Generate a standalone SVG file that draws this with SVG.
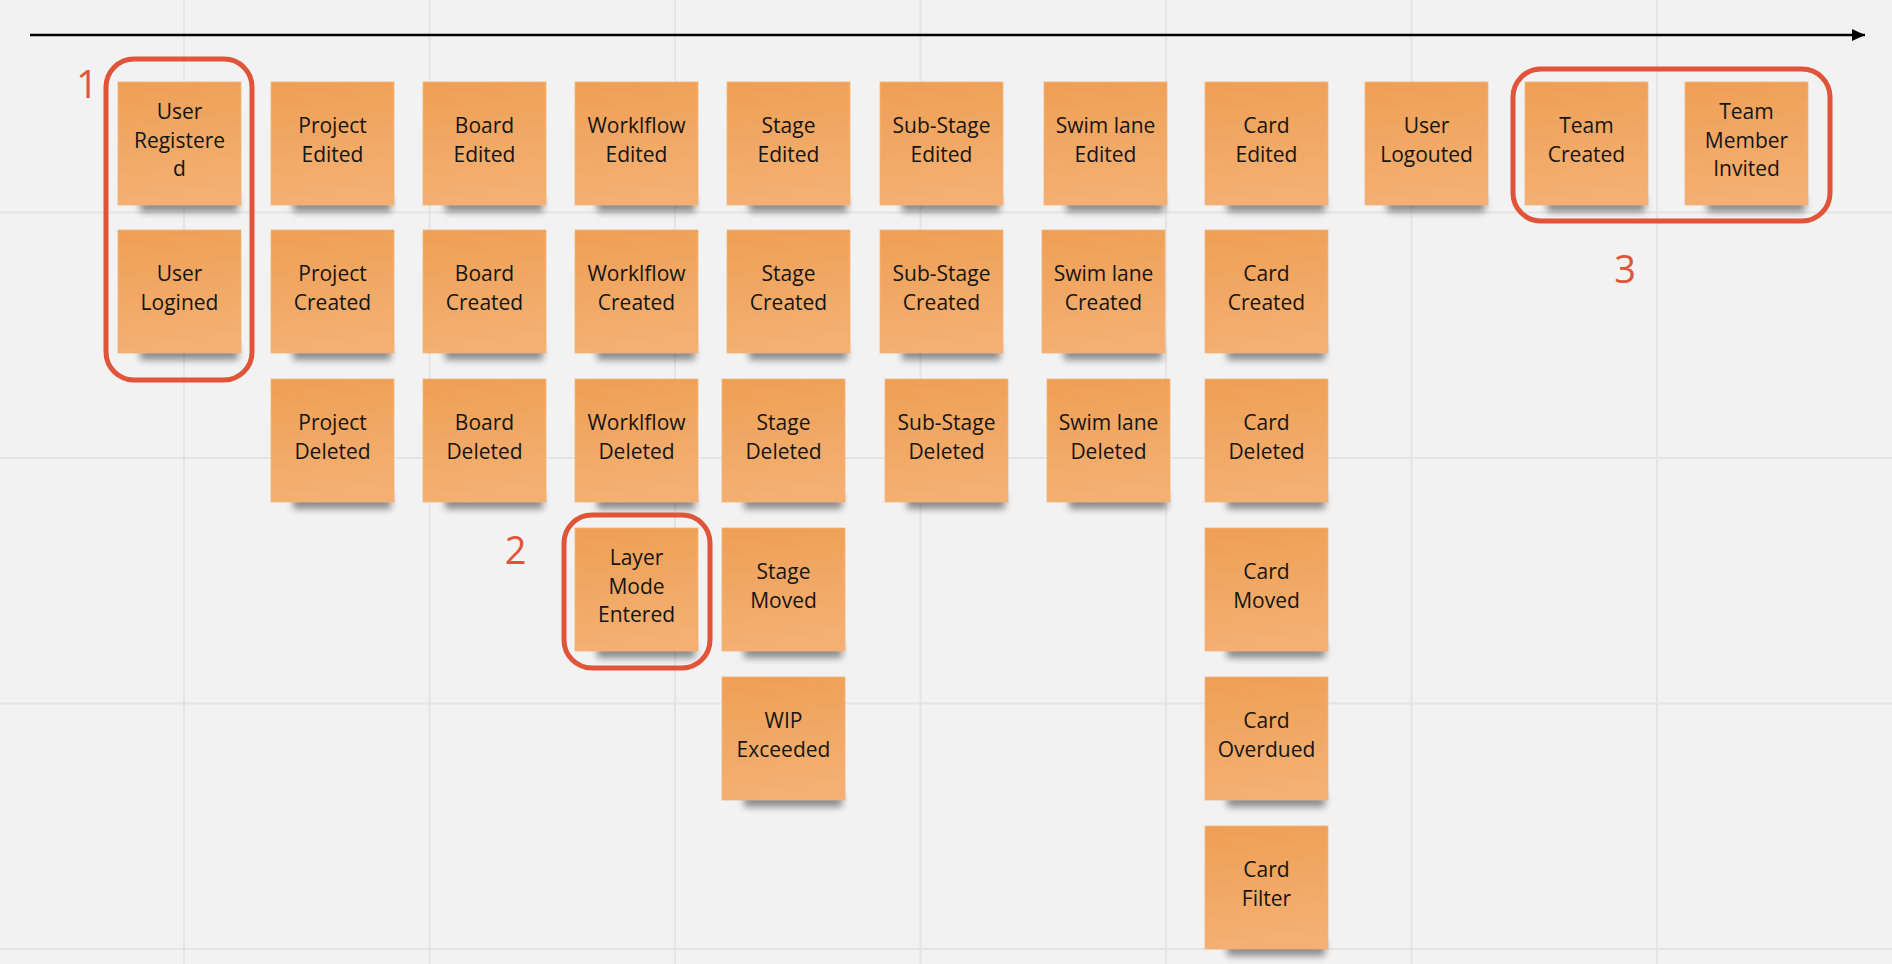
<svg xmlns="http://www.w3.org/2000/svg" width="1892" height="964" viewBox="0 0 1892 964">
<defs>
<linearGradient id="ng" x1="0" y1="0" x2="0.15" y2="1">
<stop offset="0" stop-color="#EF9F55"/>
<stop offset="1" stop-color="#F3B072"/>
</linearGradient>
<filter id="blur" x="-20%" y="-100%" width="140%" height="300%">
<feGaussianBlur stdDeviation="3.5"/>
</filter>
<marker id="ah" markerWidth="14" markerHeight="12" refX="13" refY="6" orient="auto" markerUnits="userSpaceOnUse">
<path d="M0,0 L13,6 L0,12 z" fill="#000"/>
</marker>
</defs>
<style>
.grid{stroke:#E4E4E4;stroke-width:2}
.sh{fill:#000;opacity:0.42}
.note{fill:url(#ng);stroke:#F5B57A;stroke-width:0.8}
.t{font-family:"Open Sans","Noto Sans","Liberation Sans",sans-serif;font-size:21px;fill:#151515;text-anchor:middle}
.frame{fill:none;stroke:#E0553A;stroke-width:5}
.num{font-family:"Open Sans","Noto Sans","Liberation Sans",sans-serif;font-size:38px;fill:#E0553A;text-anchor:middle}
</style>
<rect width="1892" height="964" fill="#F2F2F2"/>
<g id="grid">
<line class="grid" x1="184" y1="0" x2="184" y2="964"/>
<line class="grid" x1="429.5" y1="0" x2="429.5" y2="964"/>
<line class="grid" x1="675" y1="0" x2="675" y2="964"/>
<line class="grid" x1="920.5" y1="0" x2="920.5" y2="964"/>
<line class="grid" x1="1166" y1="0" x2="1166" y2="964"/>
<line class="grid" x1="1411.5" y1="0" x2="1411.5" y2="964"/>
<line class="grid" x1="1657" y1="0" x2="1657" y2="964"/>
<line class="grid" x1="0" y1="212.5" x2="1892" y2="212.5"/>
<line class="grid" x1="0" y1="458" x2="1892" y2="458"/>
<line class="grid" x1="0" y1="703.5" x2="1892" y2="703.5"/>
<line class="grid" x1="0" y1="949" x2="1892" y2="949"/>
</g>
<g id="connectors">
<line x1="30" y1="35" x2="1865" y2="35" stroke="#000" stroke-width="2.5" marker-end="url(#ah)"/>
</g>

<g id="n-user-registered"><rect class="sh" x="140" y="196" width="98" height="16" filter="url(#blur)"/><rect class="note" x="118" y="82" width="123" height="123"/><text class="t" x="179.5" y="119">User</text><text class="t" x="179.5" y="147.6">Registere</text><text class="t" x="179.5" y="176.2">d</text></g>
<g id="n-user-logined"><rect class="sh" x="140" y="344" width="98" height="16" filter="url(#blur)"/><rect class="note" x="118" y="230" width="123" height="123"/><text class="t" x="179.5" y="281.3">User</text><text class="t" x="179.5" y="309.9">Logined</text></g>

<g id="n-project-edited"><rect class="sh" x="293" y="196" width="98" height="16" filter="url(#blur)"/><rect class="note" x="271" y="82" width="123" height="123"/><text class="t" x="332.5" y="133.3">Project</text><text class="t" x="332.5" y="161.9">Edited</text></g>
<g id="n-project-created"><rect class="sh" x="293" y="344" width="98" height="16" filter="url(#blur)"/><rect class="note" x="271" y="230" width="123" height="123"/><text class="t" x="332.5" y="281.3">Project</text><text class="t" x="332.5" y="309.9">Created</text></g>
<g id="n-project-deleted"><rect class="sh" x="293" y="493" width="98" height="16" filter="url(#blur)"/><rect class="note" x="271" y="379" width="123" height="123"/><text class="t" x="332.5" y="430.3">Project</text><text class="t" x="332.5" y="458.9">Deleted</text></g>

<g id="n-board-edited"><rect class="sh" x="445" y="196" width="98" height="16" filter="url(#blur)"/><rect class="note" x="423" y="82" width="123" height="123"/><text class="t" x="484.5" y="133.3">Board</text><text class="t" x="484.5" y="161.9">Edited</text></g>
<g id="n-board-created"><rect class="sh" x="445" y="344" width="98" height="16" filter="url(#blur)"/><rect class="note" x="423" y="230" width="123" height="123"/><text class="t" x="484.5" y="281.3">Board</text><text class="t" x="484.5" y="309.9">Created</text></g>
<g id="n-board-deleted"><rect class="sh" x="445" y="493" width="98" height="16" filter="url(#blur)"/><rect class="note" x="423" y="379" width="123" height="123"/><text class="t" x="484.5" y="430.3">Board</text><text class="t" x="484.5" y="458.9">Deleted</text></g>

<g id="n-workflow-edited"><rect class="sh" x="597" y="196" width="98" height="16" filter="url(#blur)"/><rect class="note" x="575" y="82" width="123" height="123"/><text class="t" x="636.5" y="133.3">Worklflow</text><text class="t" x="636.5" y="161.9">Edited</text></g>
<g id="n-workflow-created"><rect class="sh" x="597" y="344" width="98" height="16" filter="url(#blur)"/><rect class="note" x="575" y="230" width="123" height="123"/><text class="t" x="636.5" y="281.3">Worklflow</text><text class="t" x="636.5" y="309.9">Created</text></g>
<g id="n-workflow-deleted"><rect class="sh" x="597" y="493" width="98" height="16" filter="url(#blur)"/><rect class="note" x="575" y="379" width="123" height="123"/><text class="t" x="636.5" y="430.3">Worklflow</text><text class="t" x="636.5" y="458.9">Deleted</text></g>
<g id="n-layer-mode-entered"><rect class="sh" x="597" y="642" width="98" height="16" filter="url(#blur)"/><rect class="note" x="575" y="528" width="123" height="123"/><text class="t" x="636.5" y="565">Layer</text><text class="t" x="636.5" y="593.6">Mode</text><text class="t" x="636.5" y="622.2">Entered</text></g>

<g id="n-stage-edited"><rect class="sh" x="749" y="196" width="98" height="16" filter="url(#blur)"/><rect class="note" x="727" y="82" width="123" height="123"/><text class="t" x="788.5" y="133.3">Stage</text><text class="t" x="788.5" y="161.9">Edited</text></g>
<g id="n-stage-created"><rect class="sh" x="749" y="344" width="98" height="16" filter="url(#blur)"/><rect class="note" x="727" y="230" width="123" height="123"/><text class="t" x="788.5" y="281.3">Stage</text><text class="t" x="788.5" y="309.9">Created</text></g>
<g id="n-stage-deleted"><rect class="sh" x="744" y="493" width="98" height="16" filter="url(#blur)"/><rect class="note" x="722" y="379" width="123" height="123"/><text class="t" x="783.5" y="430.3">Stage</text><text class="t" x="783.5" y="458.9">Deleted</text></g>
<g id="n-stage-moved"><rect class="sh" x="744" y="642" width="98" height="16" filter="url(#blur)"/><rect class="note" x="722" y="528" width="123" height="123"/><text class="t" x="783.5" y="579.3">Stage</text><text class="t" x="783.5" y="607.9">Moved</text></g>
<g id="n-wip-exceeded"><rect class="sh" x="744" y="791" width="98" height="16" filter="url(#blur)"/><rect class="note" x="722" y="677" width="123" height="123"/><text class="t" x="783.5" y="728.3">WIP</text><text class="t" x="783.5" y="756.9">Exceeded</text></g>

<g id="n-substage-edited"><rect class="sh" x="902" y="196" width="98" height="16" filter="url(#blur)"/><rect class="note" x="880" y="82" width="123" height="123"/><text class="t" x="941.5" y="133.3">Sub-Stage</text><text class="t" x="941.5" y="161.9">Edited</text></g>
<g id="n-substage-created"><rect class="sh" x="902" y="344" width="98" height="16" filter="url(#blur)"/><rect class="note" x="880" y="230" width="123" height="123"/><text class="t" x="941.5" y="281.3">Sub-Stage</text><text class="t" x="941.5" y="309.9">Created</text></g>
<g id="n-substage-deleted"><rect class="sh" x="907" y="493" width="98" height="16" filter="url(#blur)"/><rect class="note" x="885" y="379" width="123" height="123"/><text class="t" x="946.5" y="430.3">Sub-Stage</text><text class="t" x="946.5" y="458.9">Deleted</text></g>

<g id="n-swimlane-edited"><rect class="sh" x="1066" y="196" width="98" height="16" filter="url(#blur)"/><rect class="note" x="1044" y="82" width="123" height="123"/><text class="t" x="1105.5" y="133.3">Swim lane</text><text class="t" x="1105.5" y="161.9">Edited</text></g>
<g id="n-swimlane-created"><rect class="sh" x="1064" y="344" width="98" height="16" filter="url(#blur)"/><rect class="note" x="1042" y="230" width="123" height="123"/><text class="t" x="1103.5" y="281.3">Swim lane</text><text class="t" x="1103.5" y="309.9">Created</text></g>
<g id="n-swimlane-deleted"><rect class="sh" x="1069" y="493" width="98" height="16" filter="url(#blur)"/><rect class="note" x="1047" y="379" width="123" height="123"/><text class="t" x="1108.5" y="430.3">Swim lane</text><text class="t" x="1108.5" y="458.9">Deleted</text></g>

<g id="n-card-edited"><rect class="sh" x="1227" y="196" width="98" height="16" filter="url(#blur)"/><rect class="note" x="1205" y="82" width="123" height="123"/><text class="t" x="1266.5" y="133.3">Card</text><text class="t" x="1266.5" y="161.9">Edited</text></g>
<g id="n-card-created"><rect class="sh" x="1227" y="344" width="98" height="16" filter="url(#blur)"/><rect class="note" x="1205" y="230" width="123" height="123"/><text class="t" x="1266.5" y="281.3">Card</text><text class="t" x="1266.5" y="309.9">Created</text></g>
<g id="n-card-deleted"><rect class="sh" x="1227" y="493" width="98" height="16" filter="url(#blur)"/><rect class="note" x="1205" y="379" width="123" height="123"/><text class="t" x="1266.5" y="430.3">Card</text><text class="t" x="1266.5" y="458.9">Deleted</text></g>
<g id="n-card-moved"><rect class="sh" x="1227" y="642" width="98" height="16" filter="url(#blur)"/><rect class="note" x="1205" y="528" width="123" height="123"/><text class="t" x="1266.5" y="579.3">Card</text><text class="t" x="1266.5" y="607.9">Moved</text></g>
<g id="n-card-overdued"><rect class="sh" x="1227" y="791" width="98" height="16" filter="url(#blur)"/><rect class="note" x="1205" y="677" width="123" height="123"/><text class="t" x="1266.5" y="728.3">Card</text><text class="t" x="1266.5" y="756.9">Overdued</text></g>
<g id="n-card-filter"><rect class="sh" x="1227" y="940" width="98" height="16" filter="url(#blur)"/><rect class="note" x="1205" y="826" width="123" height="123"/><text class="t" x="1266.5" y="877.3">Card</text><text class="t" x="1266.5" y="905.9">Filter</text></g>

<g id="n-user-logouted"><rect class="sh" x="1387" y="196" width="98" height="16" filter="url(#blur)"/><rect class="note" x="1365" y="82" width="123" height="123"/><text class="t" x="1426.5" y="133.3">User</text><text class="t" x="1426.5" y="161.9">Logouted</text></g>
<g id="n-team-created"><rect class="sh" x="1547" y="196" width="98" height="16" filter="url(#blur)"/><rect class="note" x="1525" y="82" width="123" height="123"/><text class="t" x="1586.5" y="133.3">Team</text><text class="t" x="1586.5" y="161.9">Created</text></g>
<g id="n-team-member-invited"><rect class="sh" x="1707" y="196" width="98" height="16" filter="url(#blur)"/><rect class="note" x="1685" y="82" width="123" height="123"/><text class="t" x="1746.5" y="119">Team</text><text class="t" x="1746.5" y="147.6">Member</text><text class="t" x="1746.5" y="176.2">Invited</text></g>

<g id="group-1"><rect class="frame" x="106" y="59" width="146" height="321" rx="28"/><text class="num" x="87" y="98">1</text></g>
<g id="group-2"><rect class="frame" x="564" y="515" width="146" height="153" rx="28"/><text class="num" x="515.5" y="564">2</text></g>
<g id="group-3"><rect class="frame" x="1513" y="69" width="317" height="152" rx="28"/><text class="num" x="1625" y="283">3</text></g>
</svg>
